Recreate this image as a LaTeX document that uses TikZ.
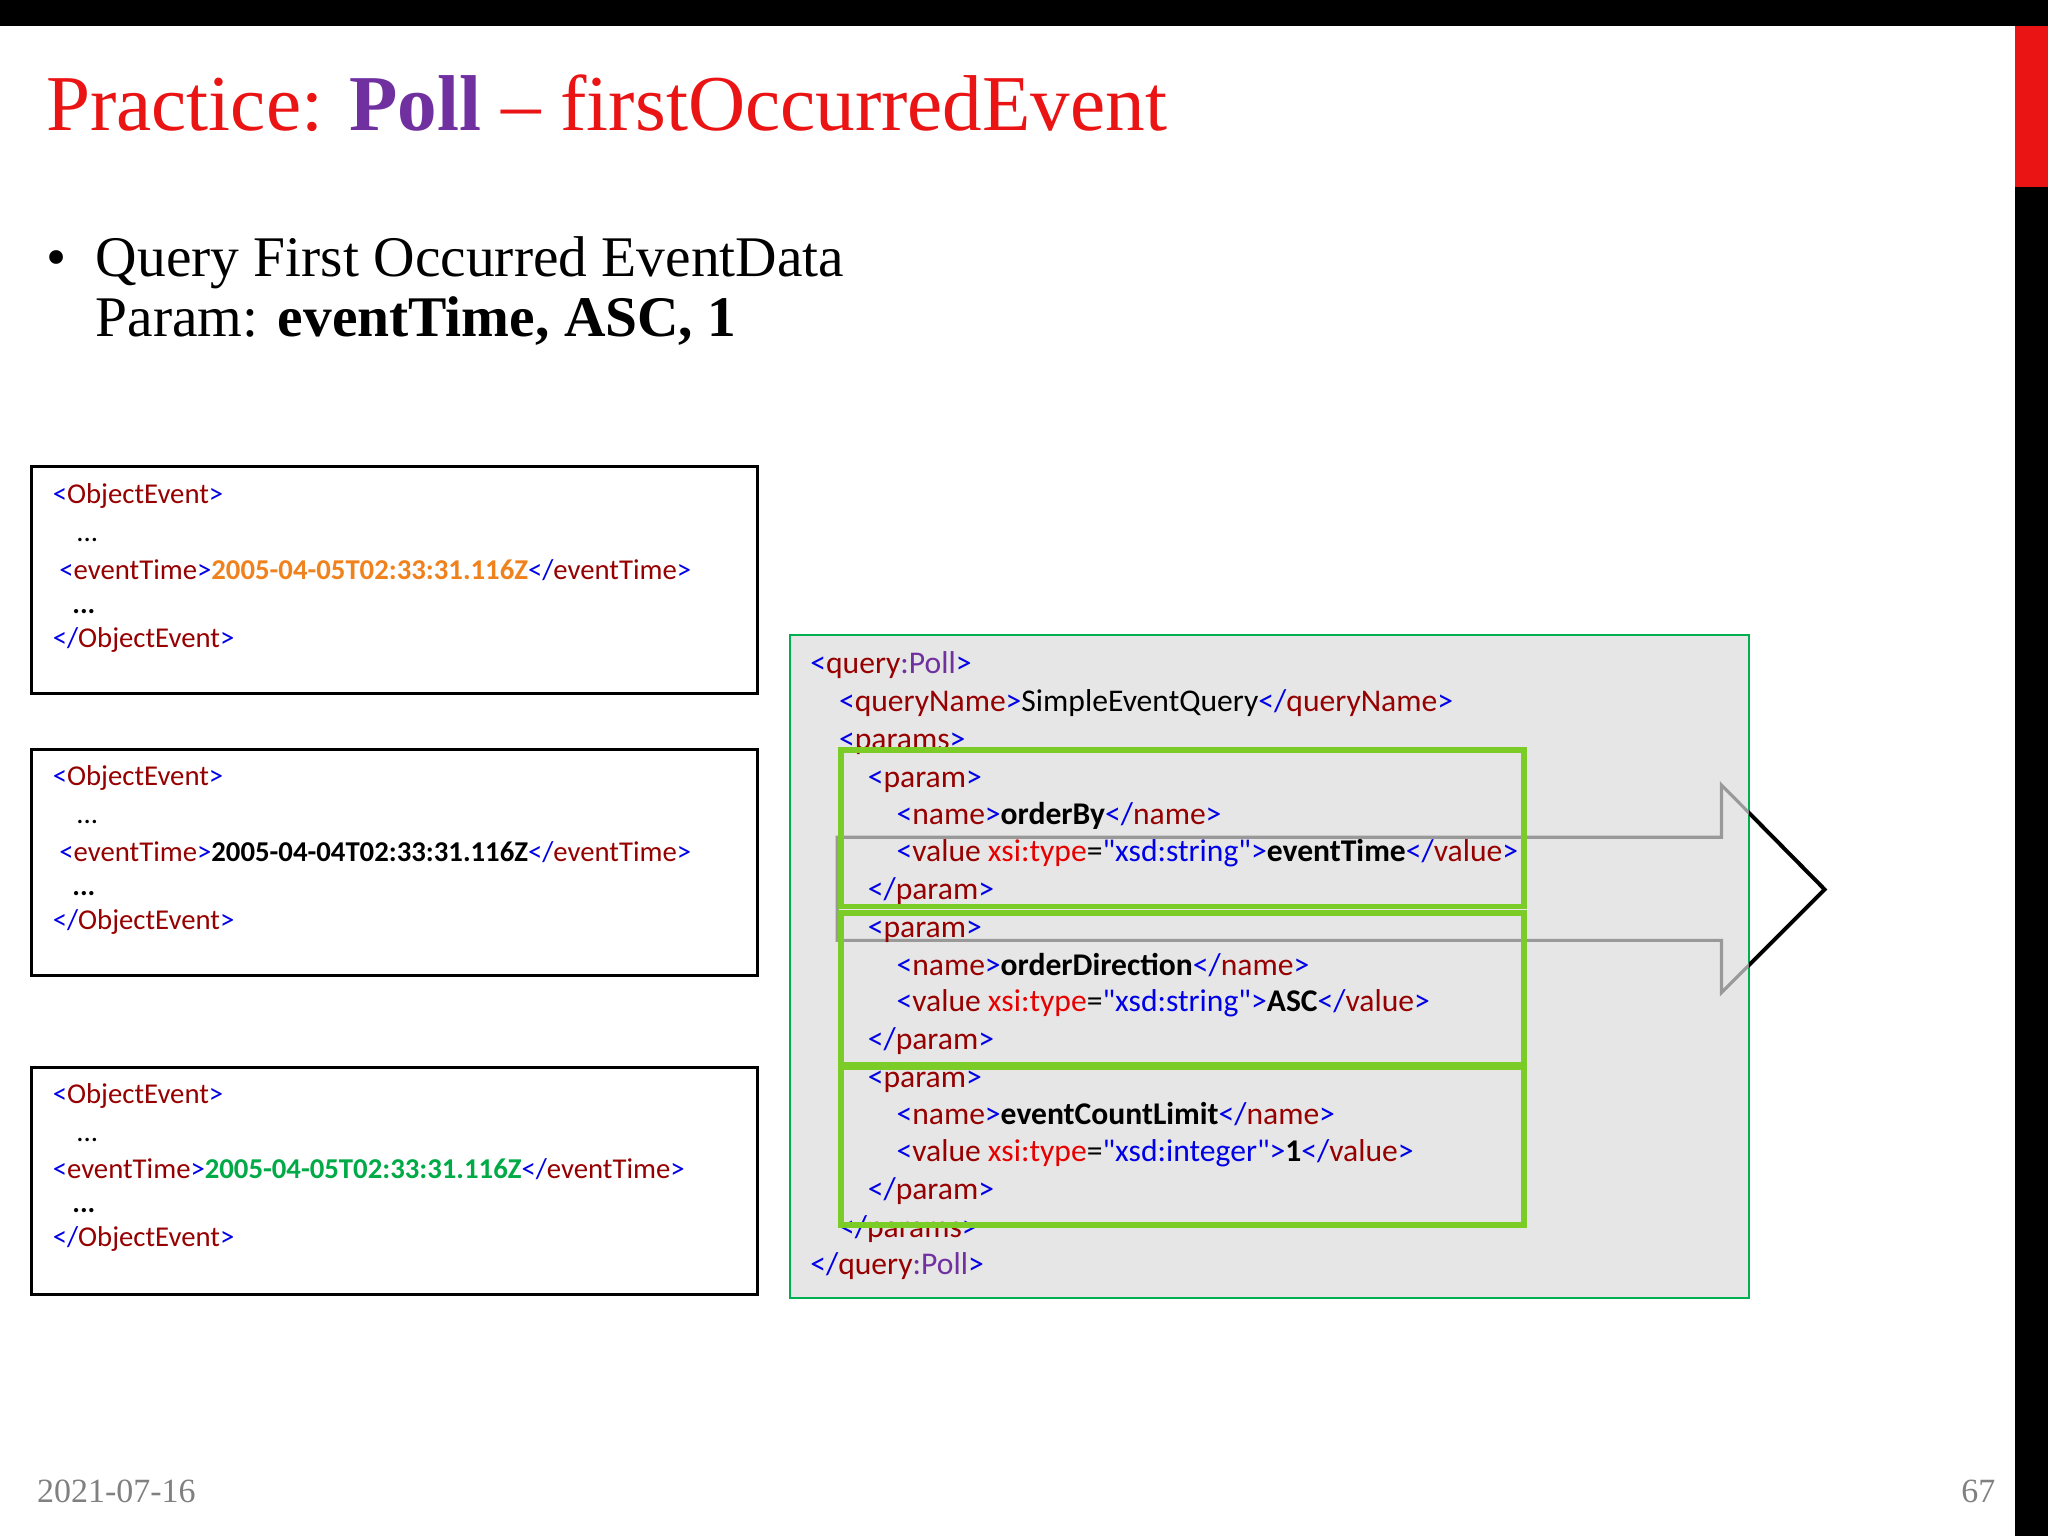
\documentclass[tikz,border=0pt]{standalone}
\usepackage{fontspec}
\setmainfont{Liberation Serif}
\newfontfamily\codefont{Carlito}
\definecolor{xb}{RGB}{0,0,230}
\definecolor{xr}{RGB}{150,0,0}
\definecolor{xp}{RGB}{112,48,160}
\definecolor{xred}{RGB}{230,0,0}
\definecolor{ttl}{RGB}{235,20,20}
\definecolor{okg}{RGB}{0,176,80}
\definecolor{lg}{RGB}{124,204,40}
\definecolor{xor}{RGB}{240,130,30}
\definecolor{xgr}{RGB}{0,170,70}
\newcommand\xtag[1]{\textcolor{xb}{<}\textcolor{xr}{#1}\textcolor{xb}{>}}
\newcommand\xend[1]{\textcolor{xb}{</}\textcolor{xr}{#1}\textcolor{xb}{>}}
\newcommand\xval[2]{\textcolor{xb}{<}\textcolor{xr}{value} \textcolor{xred}{xsi:type}=\textcolor{xb}{"#1"}\textcolor{xb}{>}\textbf{#2}\xend{value}}
\tikzset{
  evbox/.style={draw=black,line width=1.2pt},
  bx/.style={anchor=mid west,inner sep=0pt,font=\codefont\fontsize{11}{13}\selectfont},
  cd/.style={anchor=mid west,inner sep=0pt,font=\codefont\fontsize{12.1}{14}\selectfont},
  hl/.style={draw=lg,line width=2.2pt}
}
\begin{document}
\begin{tikzpicture}[x=0.5pt,y=-0.5pt]
\useasboundingbox (0,0) rectangle (1568,1176);
\fill[white] (0,0) rectangle (1568,1176);
\fill[black] (0,0) rectangle (1568,20);
\fill[black] (1543,0) rectangle (1568,1176);
\fill[ttl] (1543,20) rectangle (1568,143);
\node[anchor=base west,inner sep=0pt,font=\fontsize{30.3}{36}\selectfont,text=ttl] (title) at (35,100) {Practice: \textcolor{xp}{\textbf{Poll}} -- firstOccurredEvent};
\node[anchor=base west,inner sep=0pt,font=\fontsize{22}{26}\selectfont] (bul) at (35,212) {•};
\node[anchor=base west,inner sep=0pt,font=\fontsize{22}{26}\selectfont] (b1) at (73,212) {Query First Occurred EventData};
\node[anchor=base west,inner sep=0pt,font=\fontsize{22}{26}\selectfont] (b2) at (73,258) {Param: \textbf{eventTime, ASC, 1}};
% event boxes
\draw[evbox] (24,357) rectangle (580,531);
\draw[evbox] (24,574) rectangle (580,747);
\draw[evbox] (24,817) rectangle (580,991);
\node[bx] (a1) at (40,381) {\xtag{ObjectEvent}};
\node[bx] (a2) at (58,410) {...};
\node[bx] (a3) at (45,439) {\xtag{eventTime}\textcolor{xor}{\textbf{2005-04-05T02:33:31.116Z}}\xend{eventTime}};
\node[bx] (a4) at (55,465) {\textbf{...}};
\node[bx] (a5) at (40,491) {\xend{ObjectEvent}};
\node[bx] (c1) at (40,597) {\xtag{ObjectEvent}};
\node[bx] (c2) at (58,626) {...};
\node[bx] (c3) at (45,655) {\xtag{eventTime}\textbf{2005-04-04T02:33:31.116Z}\xend{eventTime}};
\node[bx] (c4) at (55,681) {\textbf{...}};
\node[bx] (c5) at (40,707) {\xend{ObjectEvent}};
\node[bx] (d1) at (40,840) {\xtag{ObjectEvent}};
\node[bx] (d2) at (58,869) {...};
\node[bx] (d3) at (40,898) {\xtag{eventTime}\textcolor{xgr}{\textbf{2005-04-05T02:33:31.116Z}}\xend{eventTime}};
\node[bx] (d4) at (55,924) {\textbf{...}};
\node[bx] (d5) at (40,950) {\xend{ObjectEvent}};
% query box
\draw[okg,fill={rgb,255:red,230;green,230;blue,230},line width=0.8pt] (605,486) rectangle (1339,994);
% arrow
\begin{scope}
\clip (0,0) rectangle (1339,1176);
\draw[gray!80,line width=1.2pt] (641,641) -- (1318,641) -- (1318,601) -- (1397,681) -- (1318,760) -- (1318,720) -- (641,720) -- cycle;
\end{scope}
\begin{scope}
\clip (1339,0) rectangle (1543,1176);
\draw[black,line width=1.5pt] (1318,601) -- (1397,681) -- (1318,760);
\end{scope}
\node[cd] (q1) at (620,511) {\textcolor{xb}{<}\textcolor{xr}{query}\textcolor{xp}{:Poll}\textcolor{xb}{>}};
\node[cd] (q2) at (642,540) {\xtag{queryName}SimpleEventQuery\xend{queryName}};
\node[cd] (q3) at (642,569) {\xtag{params}};
\node[cd] (q4) at (664,598) {\xtag{param}};
\node[cd] (q5) at (686,627) {\xtag{name}\textbf{orderBy}\xend{name}};
\node[cd] (q6) at (686,655) {\xval{xsd:string}{eventTime}};
\node[cd] (q7) at (664,684) {\xend{param}};
\node[cd] (q8) at (664,713) {\xtag{param}};
\node[cd] (q9) at (686,742) {\xtag{name}\textbf{orderDirection}\xend{name}};
\node[cd] (q10) at (686,770) {\xval{xsd:string}{ASC}};
\node[cd] (q11) at (664,799) {\xend{param}};
\node[cd] (q12) at (664,828) {\xtag{param}};
\node[cd] (q13) at (686,856) {\xtag{name}\textbf{eventCountLimit}\xend{name}};
\node[cd] (q14) at (686,885) {\xval{xsd:integer}{1}};
\node[cd] (q15) at (664,914) {\xend{param}};
\node[cd] (q16) at (642,943) {\xend{params}};
\node[cd] (q17) at (620,971) {\textcolor{xb}{</}\textcolor{xr}{query}\textcolor{xp}{:Poll}\textcolor{xb}{>}};
\draw[hl] (644,574) rectangle (1167,694);
\draw[hl] (644,699) rectangle (1167,815);
\draw[hl] (644,817) rectangle (1167,938);
% footer
\node[anchor=mid west,inner sep=0pt,font=\fontsize{13}{15}\selectfont,text=gray] (date) at (28,1146) {2021-07-16};
\node[anchor=mid east,inner sep=0pt,font=\fontsize{13}{15}\selectfont,text=gray] (pg) at (1528,1146) {67};
\end{tikzpicture}
\end{document}
